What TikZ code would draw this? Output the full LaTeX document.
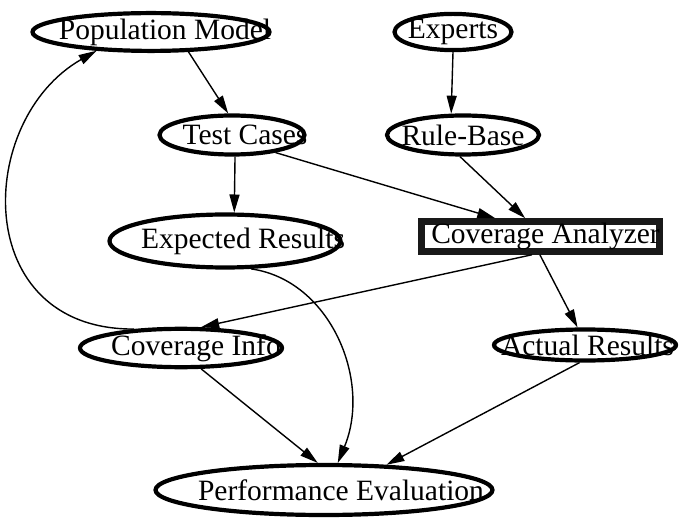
\documentclass[tikz,border=0pt]{standalone}
\usepackage{fontspec}
\setmainfont{Liberation Serif}
\usetikzlibrary{shapes.geometric,arrows.meta}
\newcommand{\lbl}[2]{\makebox[0pt]{\hspace*{#1}\hspace*{#1}#2}}
\tikzset{
  el/.style={ellipse, draw=black, line width=4.2pt, inner sep=0pt, fill=white,
    font=\fontsize{29.5pt}{31pt}\selectfont},
  boxnode/.style={rectangle, draw=black!90, line width=6.5pt, inner sep=0pt, fill=white,
    font=\fontsize{29.5pt}{31pt}\selectfont},
  edge/.style={line width=1.4pt, -{Triangle[length=18pt,width=10pt]}}
}
\begin{document}
\begin{tikzpicture}[x=1pt,y=-1pt]
\useasboundingbox[fill=white] (0,0) rectangle (679,518);
\node[el, minimum width=237pt, minimum height=35pt] (pm) at (151,32) {\lbl{14pt}{Population Model}};
\node[el, minimum width=117pt, minimum height=34pt] (ex) at (453,32) {\lbl{0pt}{Experts}};
\node[el, minimum width=145pt, minimum height=39pt] (tc) at (232,135) {\lbl{13pt}{Test Cases}};
\node[el, minimum width=152pt, minimum height=39pt] (rb) at (463,135) {\lbl{0pt}{Rule-Base}};
\node[el, minimum width=231pt, minimum height=53pt] (er) at (225,241) {\lbl{18pt}{Expected Results}};
\node[boxnode, minimum width=238pt, minimum height=30pt] (ca) at (540.5,236.5) {\lbl{5pt}{Coverage Analyzer}};
\node[el, minimum width=202pt, minimum height=32pt] (ci) at (181,348) {\lbl{15pt}{Coverage Info}};
\node[el, minimum width=182pt, minimum height=31pt] (ar) at (585,345) {\lbl{2.5pt}{Actual Results}};
\node[el, minimum width=337pt, minimum height=50pt] (pe) at (324,490) {\lbl{17pt}{Performance Evaluation}};

\draw[edge] (pm.-28) -- (tc.100);
\draw[edge] (ex.-90) -- (rb.119);
\draw[edge] (tc.-82) -- (er.72);
\draw[edge] (tc.-22) -- (ca.158);
\draw[edge] (rb.-98) -- (ca.130);
\draw[edge] (ca.-115) -- (ci.46);
\draw[edge] (ca.-92) -- (ar.113);
\draw[edge] (er.-47) .. controls (330,280) and (372,380) .. (pe.63);
\draw[edge] (ci.-46) -- (pe.103);
\draw[edge] (ar.-107) -- (pe.22);
\draw[edge] (ci.158) .. controls (-30,330) and (-25,120) .. (pm.199);
\end{tikzpicture}
\end{document}
